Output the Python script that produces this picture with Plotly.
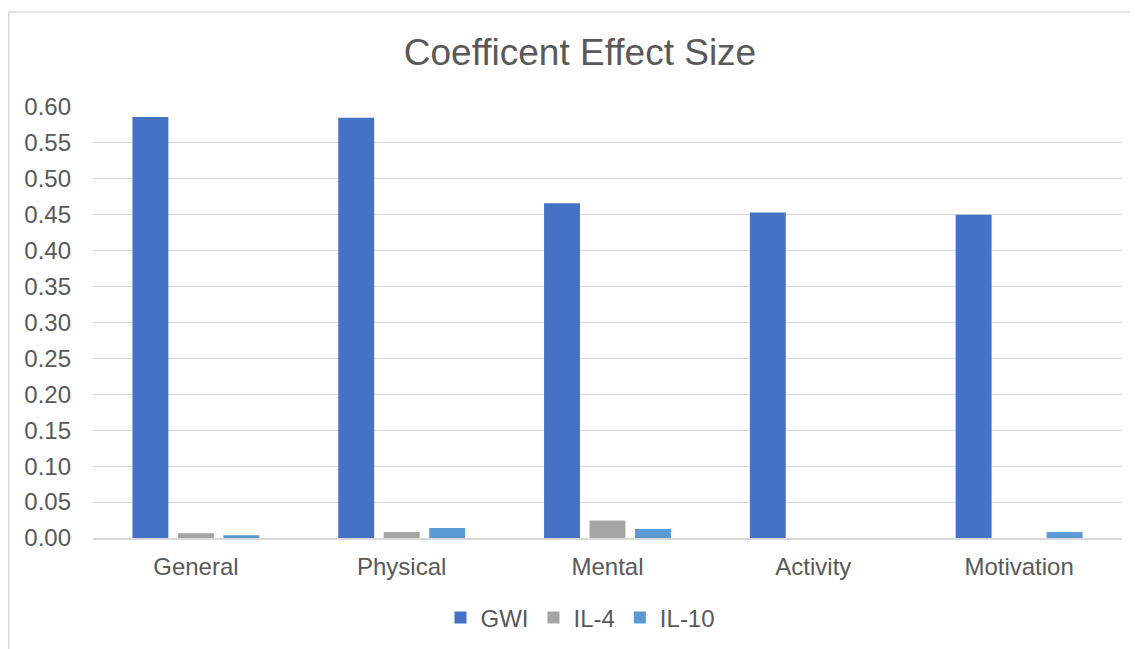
import plotly.graph_objects as go

categories = ["General", "Physical", "Mental", "Activity", "Motivation"]
gwi = [0.586, 0.585, 0.466, 0.453, 0.450]
il4 = [0.0065, 0.0085, 0.0245, 0.0, 0.0]
il10 = [0.004, 0.014, 0.0125, 0.0, 0.0085]

series_names = ["GWI", "IL-4", "IL-10"]
colors = ["#4472C4", "#A5A5A5", "#5B9BD5"]

# page body has an 8px margin, so the figure is drawn 8px smaller
W, H = 1130, 641
L, R, T, B = 85, 16, 99, 111
pw, ph = W - L - R, H - T - B

fig = go.Figure()
for name, vals, col in zip(series_names, [gwi, il4, il10], colors):
    fig.add_trace(go.Bar(x=categories, y=vals, name=name, marker_color=col,
                         marker_line_width=0))

font = "Arial, Liberation Sans, sans-serif"
txt = "#595959"
fs = 24

fig.update_layout(
    width=W, height=H,
    margin=dict(l=L, r=R, t=T, b=B, autoexpand=False),
    paper_bgcolor="white", plot_bgcolor="white",
    barmode="group", bargap=0.337, bargroupgap=0.21,
    font=dict(family=font, color=txt, size=fs),
    title=dict(text="Coefficent Effect Size", x=(580 - 8) / W, xanchor="center",
               xref="container", y=1 - 44 / H, yref="container", yanchor="middle",
               font=dict(size=37, color=txt, family=font)),
    legend=dict(orientation="h", x=0.5 - 27 / pw, xanchor="center",
                y=(H - B - 610) / ph, yanchor="middle",
                font=dict(size=fs, color=txt),
                itemwidth=30, tracegroupgap=0, itemsizing="constant"),
    showlegend=True,
)
fig.update_yaxes(range=[0, 0.6], dtick=0.05, tickformat=".2f",
                 gridcolor="#D9D9D9", gridwidth=1, zeroline=False,
                 showline=False, ticklabelstandoff=21,
                 tickfont=dict(size=fs, color=txt))
fig.update_xaxes(showline=True, linecolor="#D9D9D9", linewidth=2,
                 ticks="", ticklabelstandoff=6,
                 tickfont=dict(size=fs, color=txt))

# outer chart border (left and top edges visible)
x0 = (0.75 - L) / pw
ytop = (H - B - 4) / ph
ybot = (H - B - H) / ph
fig.add_shape(type="line", xref="paper", yref="paper", x0=x0, x1=x0,
              y0=ybot, y1=ytop, line=dict(color="#D9D9D9", width=1.5))
fig.add_shape(type="line", xref="paper", yref="paper", x0=x0, x1=(W - L) / pw,
              y0=ytop, y1=ytop, line=dict(color="#D9D9D9", width=1.5))

fig.write_html("out.html")
